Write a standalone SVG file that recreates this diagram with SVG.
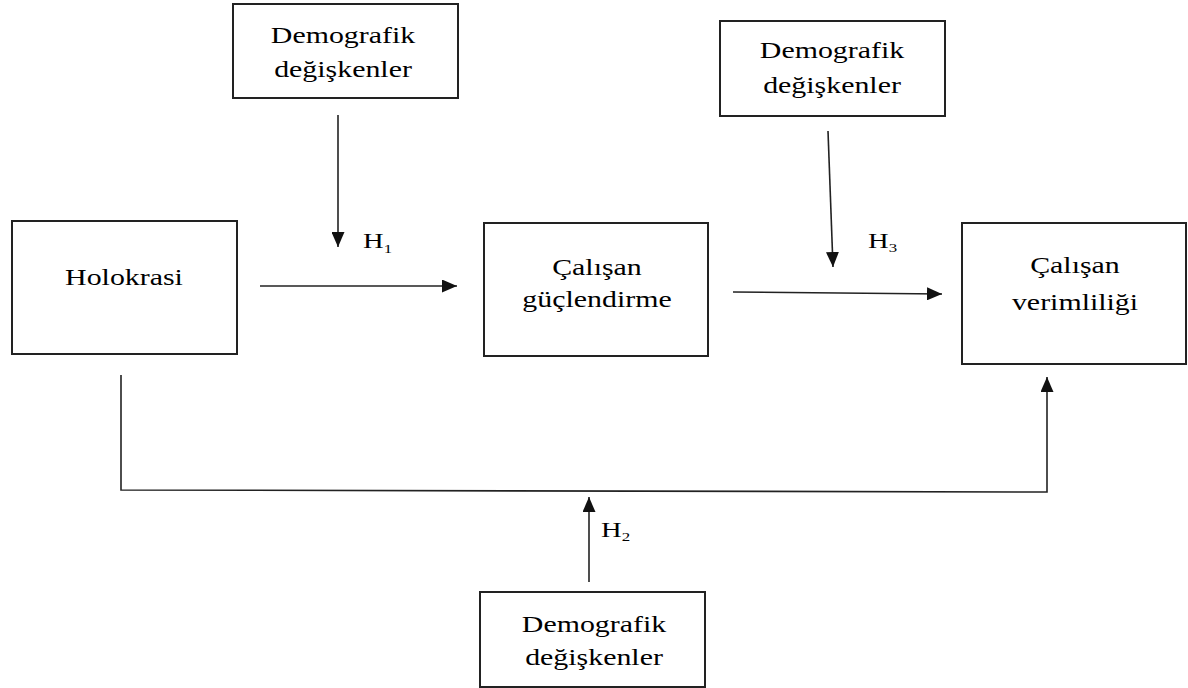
<svg xmlns="http://www.w3.org/2000/svg" width="1188" height="688" viewBox="0 0 1188 688">
  <style>
    .box { fill: #fff; stroke: #222; stroke-width: 2; }
    .lbl { font-family: "Liberation Serif", "Times New Roman", serif; font-size: 23px; fill: #000; text-anchor: middle; }
    .h { font-family: "Liberation Serif", "Times New Roman", serif; font-size: 22px; fill: #000; }
    .sub { font-family: "Liberation Serif", "Times New Roman", serif; font-size: 13px; fill: #000; }
    .conn { fill: none; stroke: #222; stroke-width: 1.6; }
  </style>
  <defs>
    <marker id="arrow" markerUnits="userSpaceOnUse" markerWidth="15" markerHeight="13" refX="15" refY="6.5" orient="auto">
      <path d="M0,0 L15,6.5 L0,13 z" fill="#111"/>
    </marker>
  </defs>
  <rect width="1188" height="688" fill="#fff"/>

  <g id="node-demo-top-left">
    <rect class="box" x="233" y="4" width="225" height="94"/>
    <g transform="translate(343 0) scale(1.3 1)">
      <text class="lbl" x="0" y="43">Demografik</text>
      <text class="lbl" x="0" y="77">değişkenler</text>
    </g>
  </g>

  <g id="node-demo-top-right">
    <rect class="box" x="720" y="21" width="225" height="95"/>
    <g transform="translate(832 0) scale(1.3 1)">
      <text class="lbl" x="0" y="58">Demografik</text>
      <text class="lbl" x="0" y="93">değişkenler</text>
    </g>
  </g>

  <g id="node-holokrasi">
    <rect class="box" x="12" y="221" width="225" height="133"/>
    <g transform="translate(124 0) scale(1.3 1)">
      <text class="lbl" x="0" y="285">Holokrasi</text>
    </g>
  </g>

  <g id="node-guclendirme">
    <rect class="box" x="484" y="223" width="224" height="133"/>
    <g transform="translate(597 0) scale(1.3 1)">
      <text class="lbl" x="0" y="275">Çalışan</text>
      <text class="lbl" x="0" y="307">güçlendirme</text>
    </g>
  </g>

  <g id="node-verimlilik">
    <rect class="box" x="962" y="223" width="224" height="141"/>
    <g transform="translate(1075 0) scale(1.3 1)">
      <text class="lbl" x="0" y="273">Çalışan</text>
      <text class="lbl" x="0" y="310">verimliliği</text>
    </g>
  </g>

  <g id="node-demo-bottom">
    <rect class="box" x="480" y="592" width="225" height="95"/>
    <g transform="translate(594 0) scale(1.3 1)">
      <text class="lbl" x="0" y="632">Demografik</text>
      <text class="lbl" x="0" y="665">değişkenler</text>
    </g>
  </g>

  <g id="connectors">
    <path class="conn" d="M338 115 L338 247" marker-end="url(#arrow)"/>
    <path class="conn" d="M260 286 L457 286" marker-end="url(#arrow)"/>
    <path class="conn" d="M828 131 L833 267" marker-end="url(#arrow)"/>
    <path class="conn" d="M733 292 L942 294" marker-end="url(#arrow)"/>
    <path class="conn" d="M589 582 L589 497" marker-end="url(#arrow)"/>
    <path class="conn" d="M121 375 L121 490 L1047 492 L1047 377" marker-end="url(#arrow)"/>
  </g>

  <g id="labels">
    <g transform="translate(363 0) scale(1.3 1)">
      <text class="h" x="0" y="248">H</text>
      <text class="sub" x="16" y="253">1</text>
    </g>
    <g transform="translate(868 0) scale(1.3 1)">
      <text class="h" x="0" y="248">H</text>
      <text class="sub" x="16" y="252">3</text>
    </g>
    <g transform="translate(601 0) scale(1.3 1)">
      <text class="h" x="0" y="537">H</text>
      <text class="sub" x="16" y="541">2</text>
    </g>
  </g>
</svg>
